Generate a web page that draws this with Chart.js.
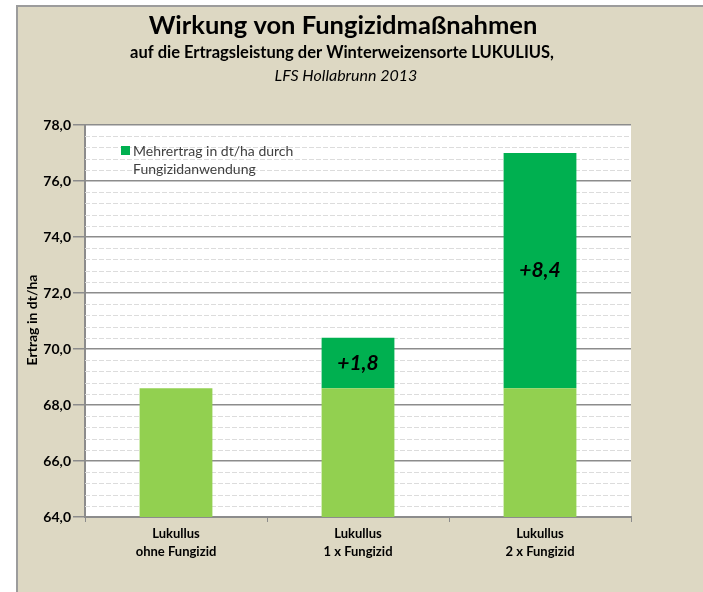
<!DOCTYPE html>
<html>
<head>
<meta charset="utf-8">
<script src="https://cdn.jsdelivr.net/npm/chart.js@4.4.1/dist/chart.umd.min.js"></script>
<style>
  html, body { margin: 0; padding: 0; background: #fff; }
  #wrap { width: 703px; height: 592px; }
</style>
</head>
<body>
<div id="wrap"><canvas id="c" width="703" height="592"></canvas></div>
<script>
const categories = [["Lukullus", "ohne Fungizid"], ["Lukullus", "1 x Fungizid"], ["Lukullus", "2 x Fungizid"]];
const baseYield = [68.6, 68.6, 68.6];
const extraYield = [null, 1.8, 8.4];
const extraLabels = ["", "+1,8", "+8,4"];
const legendText = ["Mehrertrag in dt/ha durch", "Fungizidanwendung"];

const FONT = "Lato, 'Open Sans', sans-serif";
const LIGHT = "#92D050";
const DARK = "#00B050";

// background panel, titles, minor grid, legend and value labels
const decor = {
  id: "decor",
  beforeDraw(chart) {
    const ctx = chart.ctx;
    const a = chart.chartArea;
    ctx.save();
    ctx.fillStyle = "#fff";
    ctx.fillRect(0, 0, chart.width, chart.height);
    ctx.fillStyle = "#DDD8C3";
    ctx.fillRect(17, 6, chart.width - 17, chart.height - 6);
    ctx.fillStyle = "#9C9C9C";
    ctx.fillRect(16, 5, chart.width - 16, 2);
    ctx.fillRect(16, 5, 2, chart.height - 5);
    ctx.fillStyle = "#fff";
    ctx.fillRect(a.left, a.top, a.right - a.left, a.bottom - a.top);

    ctx.fillStyle = "#000";
    ctx.textAlign = "center";
    ctx.textBaseline = "middle";
    ctx.font = "bold 25.5px " + FONT;
    ctx.fillText("Wirkung von Fungizidmaßnahmen", 343, 26);
    ctx.font = "bold 16.5px " + FONT;
    ctx.fillText("auf die Ertragsleistung der Winterweizensorte LUKULIUS,", 342, 53);
    ctx.font = "italic 16px " + FONT;
    ctx.fillText("LFS Hollabrunn 2013", 346, 76);

    ctx.translate(32, 320);
    ctx.rotate(-Math.PI / 2);
    ctx.font = "bold 14px " + FONT;
    ctx.fillText("Ertrag in dt/ha", 0, 0);
    ctx.restore();
  },
  beforeDatasetsDraw(chart) {
    const ctx = chart.ctx;
    const a = chart.chartArea;
    const y = chart.scales.y;
    ctx.save();
    ctx.strokeStyle = "#DCDCDC";
    ctx.lineWidth = 1;
    ctx.setLineDash([5, 2]);
    for (let i = 0; i <= 35; i++) {
      const v = 64 + i * 0.4;
      if (i % 5 === 0) continue;
      const py = Math.round(y.getPixelForValue(v)) + 0.5;
      ctx.beginPath();
      ctx.moveTo(a.left, py);
      ctx.lineTo(a.right, py);
      ctx.stroke();
    }
    ctx.restore();
  },
  afterDatasetsDraw(chart) {
    const ctx = chart.ctx;
    const meta = chart.getDatasetMeta(1);
    ctx.save();
    ctx.fillStyle = "#000";
    ctx.textAlign = "center";
    ctx.textBaseline = "middle";
    ctx.font = "italic bold 21px " + FONT;
    meta.data.forEach((bar, i) => {
      if (!extraLabels[i]) return;
      ctx.fillText(extraLabels[i], bar.x, (bar.y + bar.base) / 2);
    });

    ctx.fillStyle = DARK;
    ctx.fillRect(121, 146, 9, 9);
    ctx.fillStyle = "#404040";
    ctx.textAlign = "left";
    ctx.font = "14px " + FONT;
    ctx.fillText(legendText[0], 133, 151);
    ctx.fillText(legendText[1], 133, 169);
    ctx.restore();
  }
};

new Chart(document.getElementById("c"), {
  type: "bar",
  data: {
    labels: categories,
    datasets: [
      {
        label: "Ertrag",
        data: baseYield,
        backgroundColor: LIGHT,
        barPercentage: 0.4,
        categoryPercentage: 1,
      },
      {
        label: "Mehrertrag in dt/ha durch Fungizidanwendung",
        data: extraYield,
        backgroundColor: DARK,
        barPercentage: 0.4,
        categoryPercentage: 1,
      },
    ],
  },
  options: {
    responsive: false,
    animation: false,
    layout: { padding: { top: 125, right: 72, left: 0, bottom: 0 } },
    plugins: {
      legend: { display: false },
      tooltip: { enabled: false },
    },
    scales: {
      x: {
        stacked: true,
        afterFit(scale) { scale.height = 75; },
        grid: {
          offset: true,
          drawOnChartArea: false,
          color: "#8C8C8C",
          tickLength: 5,
        },
        border: { color: "#8C8C8C", width: 2 },
        ticks: {
          color: "#000",
          padding: 3,
          font: { family: FONT, size: 13, weight: "bold", lineHeight: 1.4 },
        },
      },
      y: {
        stacked: true,
        min: 64,
        max: 78,
        afterFit(scale) { scale.width = 85; },
        grid: {
          color: "#8C8C8C",
          lineWidth: 1.5,
          tickLength: 12,
        },
        border: { color: "#8C8C8C", width: 2 },
        ticks: {
          stepSize: 2,
          color: "#000",
          padding: 2,
          font: { family: FONT, size: 14, weight: "bold" },
          callback: (v) => v.toFixed(1).replace(".", ","),
        },
      },
    },
  },
  plugins: [decor],
});
</script>
</body>
</html>
